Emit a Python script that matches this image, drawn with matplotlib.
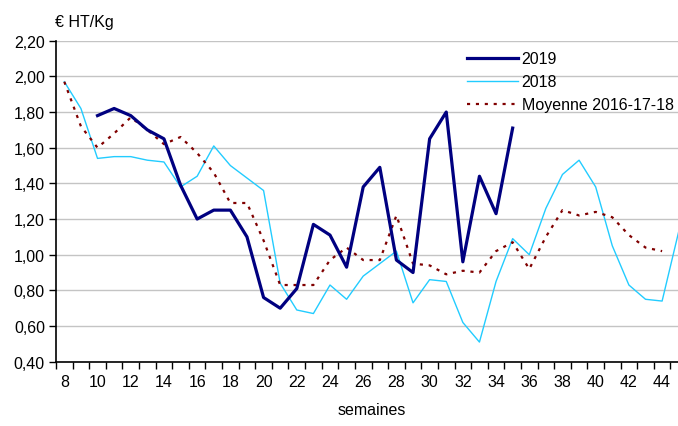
import matplotlib.pyplot as plt
from matplotlib.ticker import FuncFormatter

plt.rcParams['font.family'] = ['Liberation Sans', 'DejaVu Sans']

# semaines
weeks_2019 = list(range(10, 36))
weeks_2018 = list(range(8, 46))
weeks_moy = list(range(8, 45))

prix_2019 = [1.78, 1.82, 1.78, 1.70, 1.65, 1.39, 1.20, 1.25, 1.25, 1.10,
             0.76, 0.70, 0.81, 1.17, 1.11, 0.93, 1.38, 1.49, 0.97, 0.90,
             1.65, 1.80, 0.96, 1.44, 1.23, 1.71]

prix_2018 = [1.97, 1.82, 1.54, 1.55, 1.55, 1.53, 1.52, 1.38, 1.44, 1.61,
             1.50, 1.43, 1.36, 0.84, 0.69, 0.67, 0.83, 0.75, 0.88, 0.95,
             1.02, 0.73, 0.86, 0.85, 0.62, 0.51, 0.85, 1.09, 1.00, 1.26,
             1.45, 1.53, 1.38, 1.05, 0.83, 0.75, 0.74, 1.13]

prix_moy = [1.97, 1.72, 1.60, 1.68, 1.77, 1.70, 1.62, 1.66, 1.57, 1.46,
            1.29, 1.29, 1.08, 0.83, 0.83, 0.83, 0.97, 1.04, 0.97, 0.97,
            1.22, 0.95, 0.94, 0.89, 0.91, 0.90, 1.02, 1.07, 0.92, 1.10,
            1.25, 1.22, 1.24, 1.21, 1.11, 1.04, 1.02]

fig = plt.figure(figsize=(6.78, 4.27), dpi=100)
ax = fig.add_axes([0.0826, 0.1506, 0.9307, 0.7517])

ax.plot(weeks_2018, prix_2018, color='#22CCFF', lw=1.0, label='2018', zorder=3)
ax.plot(weeks_moy, prix_moy, color='#800000', lw=1.6, linestyle=(0, (1.4, 2.6)),
        dash_capstyle='butt', label='Moyenne 2016-17-18', zorder=4)
ax.plot(weeks_2019, prix_2019, color='#000080', lw=2.3, label='2019', zorder=5)

ax.set_xlim(7.5, 45.5)
ax.set_ylim(0.40, 2.20)

ax.set_yticks([0.40 + 0.2 * i for i in range(10)])
ax.yaxis.set_major_formatter(FuncFormatter(lambda v, p: f"{v:.2f}".replace('.', ',')))
ax.grid(axis='y', color='#c4c4c4', lw=1.0, zorder=0)
ax.set_axisbelow(True)

ax.set_xticks(range(8, 46, 2))
ax.set_xticks([w + 0.5 for w in range(7, 46)], minor=True)
ax.tick_params(axis='x', which='major', length=0, pad=9, labelsize=11.5)
ax.tick_params(axis='x', which='minor', length=5, width=1, direction='out')
ax.tick_params(axis='y', length=5, width=1, labelsize=11.5, pad=3)

for s in ['top', 'right']:
    ax.spines[s].set_visible(False)
ax.spines['left'].set_linewidth(1.2)
ax.spines['bottom'].set_linewidth(1.2)

ax.set_xlabel('semaines', fontsize=11.5, labelpad=9)
fig.text(55 / 678, 1 - 22 / 427, '€ HT/Kg', fontsize=11.5, va='center', ha='left')

handles, labels = ax.get_legend_handles_labels()
order = [2, 0, 1]
ax.legend([handles[i] for i in order], [labels[i] for i in order],
          loc='upper left', bbox_to_anchor=(0.629, 1.012), frameon=False,
          fontsize=11.5, handlelength=3.2, handletextpad=0.2, labelspacing=0.5)

plt.savefig('out.png', dpi=100)
